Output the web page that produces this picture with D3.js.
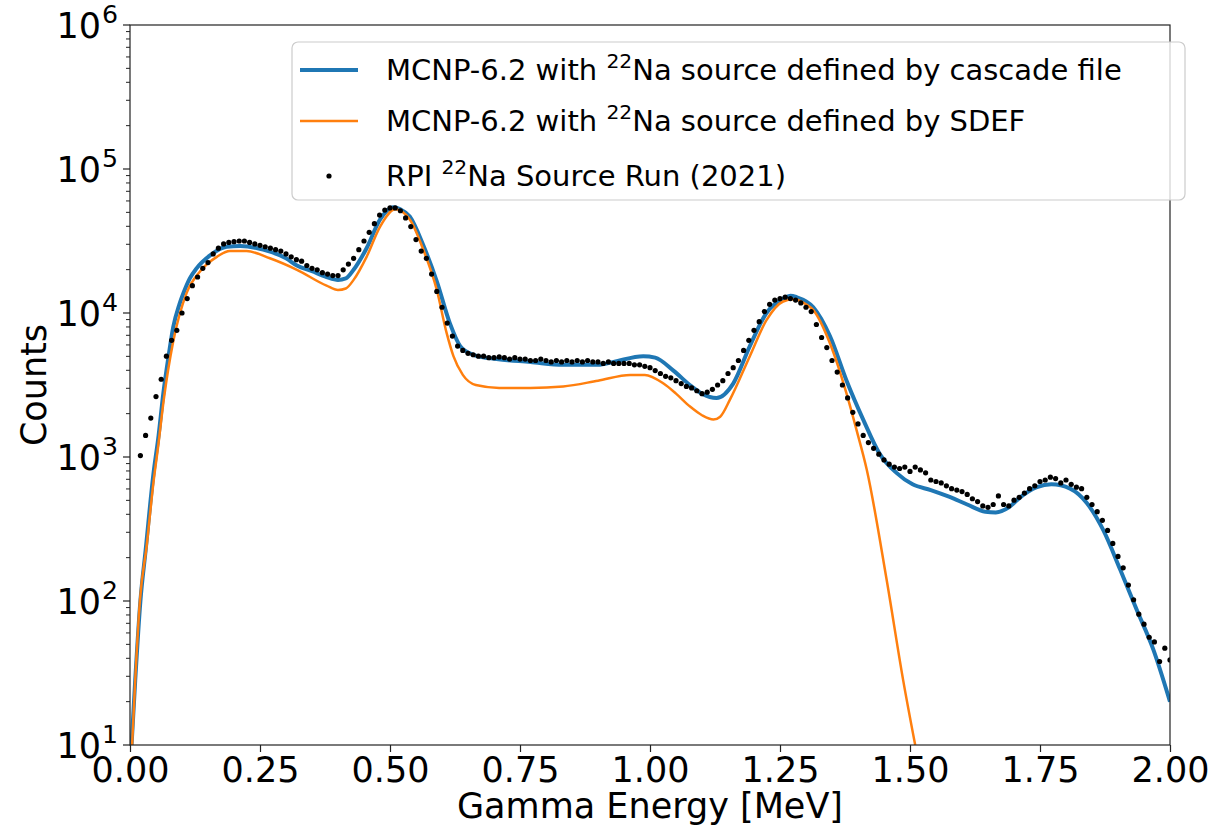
<!DOCTYPE html>
<html><head><meta charset="utf-8">
<script src="https://cdn.jsdelivr.net/npm/d3@7"></script>
<style>body{margin:0;background:#fff;} text{font-family:"DejaVu Sans",sans-serif;fill:#000;}</style>
</head><body><svg id="chart" width="1213" height="830"></svg>
<script>
// ---- Data ----
const cascadeEnergy = [0.003,0.01,0.02,0.03,0.045,0.055,0.064,0.075,0.083,0.095,0.103,0.115,0.128,0.154,0.186,0.212,0.256,0.30,0.321,0.35,0.378,0.40,0.415,0.43,0.455,0.481,0.506,0.52,0.538,0.564,0.59,0.615,0.635,0.66,0.705,0.77,0.833,0.90,0.93,0.987,1.01,1.045,1.08,1.10,1.128,1.16,1.192,1.224,1.256,1.27,1.282,1.314,1.346,1.378,1.41,1.442,1.474,1.505,1.54,1.575,1.61,1.645,1.665,1.69,1.712,1.744,1.772,1.808,1.84,1.872,1.904,1.936,1.968,2.00];
const cascadeCounts = [10,28,100,224,759,1413,2754,5248,7943,11482,13804,17378,20417,25119,28840,29174,27542,23988,21380,19498,17783,16982,17378,19953,28184,44668,54325,52481,46774,29512,16596,8511,5888,5129,4786,4571,4365,4365,4571,5012,4898,3981,3090,2754,2570,3236,5888,10000,12589,13183,12882,10965,6918,3388,1820,1047,776,646,589,530,468,417,412,447,525,617,646,603,479,309,166,87,46,20];

const sdefEnergy = [0.004,0.01,0.019,0.032,0.045,0.054,0.065,0.083,0.109,0.135,0.167,0.192,0.224,0.269,0.321,0.378,0.40,0.415,0.43,0.455,0.481,0.51,0.538,0.564,0.59,0.609,0.622,0.64,0.665,0.71,0.77,0.833,0.90,0.962,0.99,1.026,1.05,1.077,1.10,1.122,1.135,1.154,1.192,1.224,1.256,1.276,1.30,1.314,1.346,1.378,1.397,1.417,1.455,1.487,1.51];
const sdefCounts = [10,28,100,240,661,1175,2512,6310,13804,19498,24547,26915,26915,23988,19953,15488,14454,14791,16982,24547,39811,52481,44668,27542,14454,7244,5012,3715,3162,3020,3020,3090,3388,3715,3715,3236,2754,2239,1950,1820,1905,2512,5012,8913,12023,12445,11482,10471,6166,2754,1549,813,141,28,10];

const measEnergy = [0.02,0.03,0.04,0.05,0.06,0.07,0.08,0.09,0.10,0.11,0.12,0.13,0.14,0.15,0.16,0.17,0.18,0.19,0.20,0.21,0.22,0.23,0.24,0.25,0.26,0.27,0.28,0.29,0.30,0.31,0.32,0.33,0.34,0.35,0.36,0.37,0.38,0.39,0.40,0.41,0.42,0.43,0.44,0.45,0.46,0.47,0.48,0.49,0.50,0.51,0.52,0.53,0.54,0.55,0.56,0.57,0.58,0.59,0.60,0.61,0.62,0.63,0.64,0.65,0.66,0.67,0.68,0.69,0.70,0.71,0.72,0.73,0.74,0.75,0.76,0.77,0.78,0.79,0.80,0.81,0.82,0.83,0.84,0.85,0.86,0.87,0.88,0.89,0.90,0.91,0.92,0.93,0.94,0.95,0.96,0.97,0.98,0.99,1.00,1.01,1.02,1.03,1.04,1.05,1.06,1.07,1.08,1.09,1.10,1.11,1.12,1.13,1.14,1.15,1.16,1.17,1.18,1.19,1.20,1.21,1.22,1.23,1.24,1.25,1.26,1.27,1.28,1.29,1.30,1.31,1.32,1.33,1.34,1.35,1.36,1.37,1.38,1.39,1.40,1.41,1.42,1.43,1.44,1.45,1.46,1.47,1.48,1.49,1.50,1.51,1.52,1.53,1.54,1.55,1.56,1.57,1.58,1.59,1.60,1.61,1.62,1.63,1.64,1.65,1.66,1.67,1.68,1.69,1.70,1.71,1.72,1.73,1.74,1.75,1.76,1.77,1.78,1.79,1.80,1.81,1.82,1.83,1.84,1.85,1.86,1.87,1.88,1.89,1.90,1.91,1.92,1.93,1.94,1.95,1.96,1.97,1.98,1.99,2.00];
const measCounts = [1023,1413,1862,2630,3467,5012,6457,7586,10000,12589,15488,17783,20417,22387,25704,28184,30200,30903,31261,31623,31623,30903,30200,29512,28840,28184,27542,26915,25704,24547,23442,22909,21380,20417,19953,19055,18621,18197,18197,19953,21878,23988,27542,31623,36308,41687,47863,51880,53703,53703,51286,45709,39811,32359,26915,23988,18621,14125,10965,8511,6918,5888,5495,5248,5129,5012,5012,4898,4898,4955,4898,4786,4898,4786,4786,4677,4677,4786,4677,4571,4677,4571,4677,4571,4677,4571,4677,4571,4571,4467,4571,4467,4467,4467,4467,4365,4365,4266,4169,3981,3802,3631,3548,3388,3236,3090,3020,2884,2754,2818,2951,3162,3388,3802,4169,4677,5495,6457,7586,8710,10233,11482,12303,12589,12882,12589,12303,11749,10965,10233,8318,6761,5754,4677,3890,3162,2570,2042,1698,1413,1259,1148,1047,955,891,851,832,851,794,851,813,776,692,676,661,631,603,589,575,550,513,490,457,447,468,537,468,457,501,525,562,603,631,676,692,724,708,661,692,646,617,603,525,468,417,363,309,251,204,170,129,102,81,69,56,52,38,47,39];

const xTickValues = [0,0.25,0.5,0.75,1.0,1.25,1.5,1.75,2.0];
const yTickExponents = [1,2,3,4,5,6];
const legendLabels = [
  ["MCNP-6.2 with ", "22", "Na source defined by cascade file"],
  ["MCNP-6.2 with ", "22", "Na source defined by SDEF"],
  ["RPI ", "22", "Na Source Run (2021)"]
];

// ---- Layout ----
const L = 130, R = 1170, T = 25, B = 745;
const svg = d3.select("#chart");
const x = d3.scaleLinear().domain([0, 2]).range([L, R]);
const y = d3.scaleLog().domain([10, 1e6]).range([B, T]);
const FS = 35;      // tick & axis label font
const LFS = 29;     // legend font

svg.append("defs").append("clipPath").attr("id","clip")
  .append("rect").attr("x",L).attr("y",T).attr("width",R-L).attr("height",B-T);

// lines
const line = d3.line().x(d => x(d[0])).y(d => y(d[1])).curve(d3.curveMonotoneX);
const g = svg.append("g").attr("clip-path","url(#clip)");
g.append("path").datum(cascadeEnergy.map((e,i)=>[e,cascadeCounts[i]]))
  .attr("d", line).attr("fill","none").attr("stroke","#1f77b4").attr("stroke-width",4);
g.append("path").datum(sdefEnergy.map((e,i)=>[e,sdefCounts[i]]))
  .attr("d", line).attr("fill","none").attr("stroke","#ff7f0e").attr("stroke-width",2.5);
g.selectAll("circle.pt").data(measEnergy.map((e,i)=>[e,measCounts[i]])).enter()
  .append("circle").attr("class","pt").attr("cx",d=>x(d[0])).attr("cy",d=>y(d[1]))
  .attr("r",2.6).attr("fill","#000");

// frame
svg.append("rect").attr("x",L).attr("y",T).attr("width",R-L).attr("height",B-T)
  .attr("fill","none").attr("stroke","#222").attr("stroke-width",1.2);

// x axis
const xAxis = d3.axisBottom(x).tickValues(xTickValues).tickFormat(d3.format(".2f")).tickSize(7).tickPadding(5);
const xg = svg.append("g").attr("transform",`translate(0,${B})`).call(xAxis);
xg.select(".domain").remove();
xg.selectAll("line").attr("stroke","#222").attr("stroke-width",1.2);
xg.selectAll("text").attr("font-size",FS).attr("font-family","DejaVu Sans").attr("fill","#000");

// y axis major / minor ticks
const yg = svg.append("g");
const minor = [];
for (let k = 1; k < 6; k++) for (let m = 2; m <= 9; m++) minor.push(m*Math.pow(10,k));
yg.selectAll("line.minor").data(minor).enter().append("line")
  .attr("x1",L-4).attr("x2",L).attr("y1",d=>y(d)).attr("y2",d=>y(d))
  .attr("stroke","#222").attr("stroke-width",1);
const majors = yTickExponents.map(e => ({e, v: Math.pow(10,e)}));
yg.selectAll("line.major").data(majors).enter().append("line")
  .attr("x1",L-7).attr("x2",L).attr("y1",d=>y(d.v)).attr("y2",d=>y(d.v))
  .attr("stroke","#222").attr("stroke-width",1.2);
const yl = yg.selectAll("text.yl").data(majors).enter().append("text")
  .attr("x",L-12).attr("y",d=>y(d.v)+13).attr("text-anchor","end").attr("font-size",FS);
yl.append("tspan").text("10");
yl.append("tspan").attr("dx",1).attr("dy",-15).attr("font-size",FS*0.72).text(d=>d.e);

// axis labels
svg.append("text").attr("x",(L+R)/2).attr("y",818).attr("text-anchor","middle")
  .attr("font-size",FS).text("Gamma Energy [MeV]");
svg.append("text").attr("transform",`translate(46,${(T+B)/2}) rotate(-90)`)
  .attr("text-anchor","middle").attr("font-size",FS).text("Counts");

// legend
const lg = svg.append("g");
lg.append("rect").attr("x",292).attr("y",42).attr("width",893).attr("height",158).attr("rx",6)
  .attr("fill","#fff").attr("fill-opacity",0.8).attr("stroke","#ccc").attr("stroke-width",1.2);
const rows = [70,121,176];
lg.append("line").attr("x1",300).attr("x2",358).attr("y1",rows[0]).attr("y2",rows[0]).attr("stroke","#1f77b4").attr("stroke-width",4);
lg.append("line").attr("x1",300).attr("x2",358).attr("y1",rows[1]).attr("y2",rows[1]).attr("stroke","#ff7f0e").attr("stroke-width",2.5);
lg.append("circle").attr("cx",329).attr("cy",rows[2]).attr("r",2.6).attr("fill","#000");
legendLabels.forEach((lab,i) => {
  const t = lg.append("text").attr("x",386).attr("y",rows[i]+10).attr("font-size",LFS);
  t.append("tspan").text(lab[0]);
  t.append("tspan").attr("dy",-12).attr("font-size",LFS*0.7).text(lab[1]);
  t.append("tspan").attr("dy",12).text(lab[2]);
});
</script></body></html>
